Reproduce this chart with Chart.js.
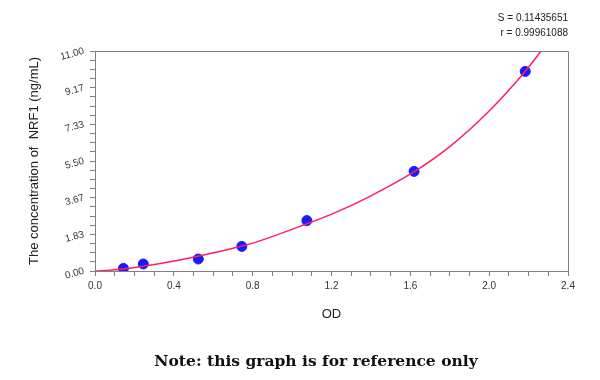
<!DOCTYPE html>
<html>
<head>
<meta charset="utf-8">
<script src="https://cdn.jsdelivr.net/npm/chart.js@4/dist/chart.umd.min.js"></script>
<style>
  html, body { margin: 0; padding: 0; background: #fff; }
  #wrap { position: relative; width: 600px; height: 380px; }
  canvas { display: block; }
</style>
</head>
<body>
<div id="wrap"><canvas id="c" width="600" height="380"></canvas></div>
<script>
// Standard points (OD, concentration ng/mL)
const odValues = [0.144, 0.245, 0.524, 0.745, 1.075, 1.619, 2.183];
const concValues = [0.13, 0.35, 0.60, 1.23, 2.52, 4.98, 9.98];

// Fitted curve
const curveOD = [0.00, 0.10, 0.25, 0.36, 0.51, 0.71, 0.84, 1.04, 1.21, 1.38, 1.62, 1.80, 2.00, 2.18, 2.27];
const curveConc = [0.00, 0.06, 0.25, 0.42, 0.71, 1.16, 1.52, 2.23, 2.88, 3.66, 4.97, 6.22, 8.00, 9.95, 11.08];

// Tick labels
const xTickLabels = ['0.0', '0.4', '0.8', '1.2', '1.6', '2.0', '2.4'];
const yTickLabels = ['0.00', '1.83', '3.67', '5.50', '7.33', '9.17', '11.00'];

// Fit statistics
const statLines = ['S = 0.11435651', 'r = 0.99961088'];
const noteText = 'Note: this graph is for reference only';

const axisGray = '#808080';
const textColor = '#333333';
const sansFont = "'Liberation Sans', Arial, sans-serif";

const framePlugin = {
  id: 'frame',
  afterDatasetsDraw(chart) {
    const { ctx, chartArea: a } = chart;
    ctx.save();
    ctx.strokeStyle = axisGray;
    ctx.lineWidth = 1;
    ctx.beginPath();
    ctx.moveTo(a.left, a.top + 0.5);
    ctx.lineTo(a.right + 0.5, a.top + 0.5);
    ctx.lineTo(a.right + 0.5, a.bottom);
    ctx.stroke();
    ctx.restore();
  },
  afterDraw(chart) {
    const { ctx, chartArea: a } = chart;
    ctx.save();
    ctx.fillStyle = '#222';
    ctx.font = "10px " + sansFont;
    ctx.textAlign = 'right';
    ctx.textBaseline = 'middle';
    ctx.fillText(statLines[0], a.right, 18);
    ctx.fillText(statLines[1], a.right, 33);
    ctx.font = "bold 15.5px 'DejaVu Serif', 'Liberation Serif', serif";
    ctx.fillStyle = '#111';
    ctx.textAlign = 'center';
    ctx.fillText(noteText, 316, 362);
    ctx.restore();
  }
};

new Chart(document.getElementById('c'), {
  type: 'scatter',
  data: {
    datasets: [
      {
        type: 'line',
        label: 'fit',
        data: curveOD.map((x, i) => ({ x, y: curveConc[i] })),
        borderColor: '#ff1f5a',
        borderWidth: 1.5,
        pointRadius: 0,
        fill: false,
        cubicInterpolationMode: 'monotone',
        order: 1
      },
      {
        label: 'standards',
        data: odValues.map((x, i) => ({ x, y: concValues[i] })),
        backgroundColor: '#1a1aff',
        borderColor: '#1a1aff',
        pointRadius: 5,
        pointHoverRadius: 5,
        order: 2
      }
    ]
  },
  options: {
    responsive: false,
    animation: false,
    events: [],
    layout: { padding: { top: 51, right: 32, left: 27, bottom: 54 } },
    plugins: { legend: { display: false }, tooltip: { enabled: false } },
    scales: {
      x: {
        type: 'linear',
        min: 0, max: 2.4,
        border: { display: true, color: axisGray, width: 1 },
        grid: { display: true, drawOnChartArea: false, drawTicks: true, tickLength: 5, color: axisGray },
        afterBuildTicks(scale) {
          const t = [];
          for (let i = 0; i <= 24; i++) t.push({ value: i * 0.1 });
          scale.ticks = t;
        },
        ticks: {
          autoSkip: false,
          maxRotation: 0, minRotation: 0,
          color: textColor,
          font: { family: sansFont, size: 10 },
          padding: 4,
          callback(v, i) { return i % 4 === 0 ? xTickLabels[i / 4] : ''; }
        },
        title: { display: true, text: 'OD', color: '#222', font: { family: sansFont, size: 13 }, padding: { top: 4, bottom: 4 } },
        afterFit(scale) { scale.height = 55; }
      },
      y: {
        type: 'linear',
        min: 0, max: 11,
        border: { display: true, color: axisGray, width: 1 },
        grid: { display: true, drawOnChartArea: false, drawTicks: true, tickLength: 5, color: axisGray },
        afterBuildTicks(scale) {
          const t = [];
          for (let i = 0; i <= 24; i++) t.push({ value: i * 11 / 24 });
          scale.ticks = t;
        },
        ticks: {
          autoSkip: false,
          minRotation: 15, maxRotation: 15,
          color: textColor,
          font: { family: sansFont, size: 10 },
          padding: 6,
          callback(v, i) { return i % 4 === 0 ? yTickLabels[i / 4] : ''; }
        },
        title: { display: true, text: 'The concentration of  NRF1 (ng/mL)', color: '#222', font: { family: sansFont, size: 13 }, padding: { top: 0, bottom: 0 } },
        afterFit(scale) { scale.width = 68; }
      }
    }
  },
  plugins: [framePlugin]
});
</script>
</body>
</html>
